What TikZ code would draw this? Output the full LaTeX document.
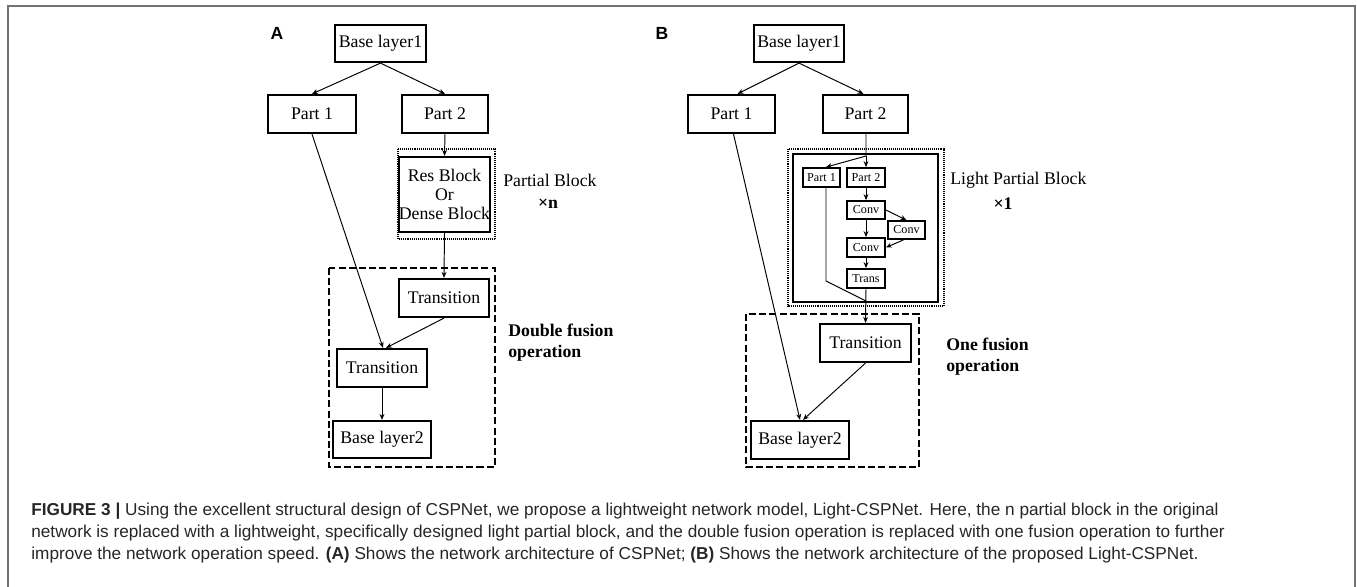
\documentclass[tikz,border=0pt]{standalone}
\usepackage{fontspec}
\setmainfont{Liberation Serif}
\newfontfamily\capfont{Liberation Sans}
\usetikzlibrary{arrows.meta}

\tikzset{
  box/.style={draw=black, line width=1.25pt, inner sep=0pt, align=center,
    font=\fontsize{10.1}{11}\selectfont},
  smallbox/.style={draw=black, line width=1pt, inner sep=0pt, align=center,
    font=\fontsize{6.9}{8}\selectfont},
  link/.style={line width=0.55pt, -{Stealth[length=3.4pt, width=2.8pt]}},
  plainlink/.style={line width=0.55pt},
  dashbox/.style={draw=black, line width=1.1pt, dash pattern=on 4pt off 1.8pt},
  dotbox/.style={draw=black, line width=1.5pt, dash pattern=on 0.55pt off 0.55pt},
  solidbox/.style={draw=black, line width=1.2pt},
  sidelabel/.style={anchor=west, inner sep=0pt, font=\fontsize{10.1}{11}\selectfont},
  sidebold/.style={anchor=west, inner sep=0pt, font=\fontsize{10.1}{11}\selectfont\bfseries},
  panellabel/.style={inner sep=0pt, font=\capfont\fontsize{10}{12}\selectfont\bfseries},
  capline/.style={anchor=west, inner sep=0pt, text=black!85,
    font=\capfont\fontsize{9.8}{12}\selectfont},
}

\begin{document}
\begin{tikzpicture}[x=0.02cm, y=-0.02cm]
\useasboundingbox (0,0) rectangle (1357,587);

% outer frame
\draw[black!55, line width=1pt] (8,587) -- (8,6) -- (1355,6) -- (1355,587);

% ---------------- panel A: CSPNet ----------------
\node[panellabel] (labA) at (277,33) {A};
\node[box, minimum width=1.82cm, minimum height=0.74cm] (bl1a) at (380.5,43.5) {Base layer1};
\node[box, minimum width=1.76cm, minimum height=0.76cm] (p1a) at (312,114) {Part 1};
\node[box, minimum width=1.72cm, minimum height=0.76cm] (p2a) at (445,114) {Part 2};
\node[box, minimum width=1.78cm, minimum height=1.5cm] (resa) at (444.5,194.5) {Res Block\\Or\\Dense Block};
\draw[dotbox] (398,149) rectangle (495,239);
\node[sidelabel] (pbl) at (503,180) {Partial Block};
\node[sidebold, anchor=center] (pbn) at (548,204) {×n};

\draw[dashbox] (329,268) rectangle (495,467);
\node[box, minimum width=1.8cm, minimum height=0.76cm] (t1a) at (444,298) {Transition};
\node[box, minimum width=1.8cm, minimum height=0.76cm] (t2a) at (382,368) {Transition};
\node[box, minimum width=1.96cm, minimum height=0.74cm] (bl2a) at (382,439.5) {Base layer2};
\node[sidebold] (dfa) at (508,330) {Double fusion};
\node[sidebold] (dfb) at (508,353) {operation};

\draw[link] (bl1a.south) -- (p1a.north);
\draw[link] (bl1a.south) -- (p2a.north);
\draw[link] (p2a.south) -- (resa.north);
\draw[link] (resa.south) -- (t1a.north);
\draw[link] (p1a.south) -- ([xshift=0.02cm]t2a.north);
\draw[link] (t1a.south) -- ([xshift=0.08cm]t2a.north);
\draw[link] (t2a.south) -- (bl2a.north);

% ---------------- panel B: Light-CSPNet ----------------
\node[panellabel] (labB) at (662,33) {B};
\node[box, minimum width=1.8cm, minimum height=0.74cm] (bl1b) at (799,43.5) {Base layer1};
\node[box, minimum width=1.74cm, minimum height=0.76cm] (p1b) at (731.5,114) {Part 1};
\node[box, minimum width=1.7cm, minimum height=0.76cm] (p2b) at (865.5,114) {Part 2};

\draw[dotbox] (788,149) rectangle (944,306);
\draw[solidbox] (793,154) rectangle (938,302);
\node[sidelabel] (lpb) at (950,180) {Light Partial Block};
\node[sidebold, anchor=center] (lpn) at (1003,204) {×1};

\node[smallbox, minimum width=0.74cm, minimum height=0.38cm] (sp1) at (821.5,177.5) {Part 1};
\node[smallbox, minimum width=0.76cm, minimum height=0.38cm] (sp2) at (866,177.5) {Part 2};
\node[smallbox, minimum width=0.76cm, minimum height=0.36cm] (cv1) at (866,210) {Conv};
\node[smallbox, minimum width=0.74cm, minimum height=0.36cm] (cv2) at (906.5,230) {Conv};
\node[smallbox, minimum width=0.76cm, minimum height=0.38cm] (cv3) at (866,247.5) {Conv};
\node[smallbox, minimum width=0.76cm, minimum height=0.38cm] (trs) at (866,278.5) {Trans};

\draw[dashbox] (746,314) rectangle (919,467);
\node[box, minimum width=1.82cm, minimum height=0.76cm] (tb) at (865.5,343) {Transition};
\node[box, minimum width=1.96cm, minimum height=0.76cm] (bl2b) at (800,440) {Base layer2};
\node[sidebold] (ofa) at (946,344) {One fusion};
\node[sidebold] (ofb) at (946,367) {operation};

\coordinate (split) at (866,156);
\coordinate (bend) at (826,281);
\coordinate (join) at (866,301);

\draw[link] (bl1b.south) -- ([xshift=0.12cm]p1b.north);
\draw[link] (bl1b.south) -- ([xshift=-0.04cm]p2b.north);
\draw[plainlink] ([xshift=0.01cm]p2b.south) -- (split);
\draw[link] (split) -- (sp2.north);
\draw[link] (split) -- ([xshift=0.09cm]sp1.north);
\draw[link] (sp2.south) -- (cv1.north);
\draw[link] (cv1.east) -- (cv2.north);
\draw[link] (cv1.south) -- (cv3.north);
\draw[link] ([xshift=-0.06cm]cv2.south) -- (cv3.east);
\draw[link] (cv3.south) -- (trs.north);
\draw[plainlink] ([xshift=0.09cm]sp1.south) -- (bend) -- (join);
\draw[link] (trs.south) -- (tb.north);
\draw[link] ([xshift=0.04cm]p1b.south) -- (bl2b.north);
\draw[link] (tb.south) -- ([xshift=0.06cm]bl2b.north);

% ---------------- caption ----------------
\node[capline] (c1) at (31,511) {\textbf{FIGURE 3 |} Using the excellent structural design of CSPNet, we propose a lightweight network model, Light-CSPNet. Here, the n partial block in the original};
\node[capline] (c2) at (31,533) {network is replaced with a lightweight, specifically designed light partial block, and the double fusion operation is replaced with one fusion operation to further};
\node[capline] (c3) at (31,555) {improve the network operation speed. \textbf{(A)} Shows the network architecture of CSPNet; \textbf{(B)} Shows the network architecture of the proposed Light-CSPNet.};
\end{tikzpicture}
\end{document}
